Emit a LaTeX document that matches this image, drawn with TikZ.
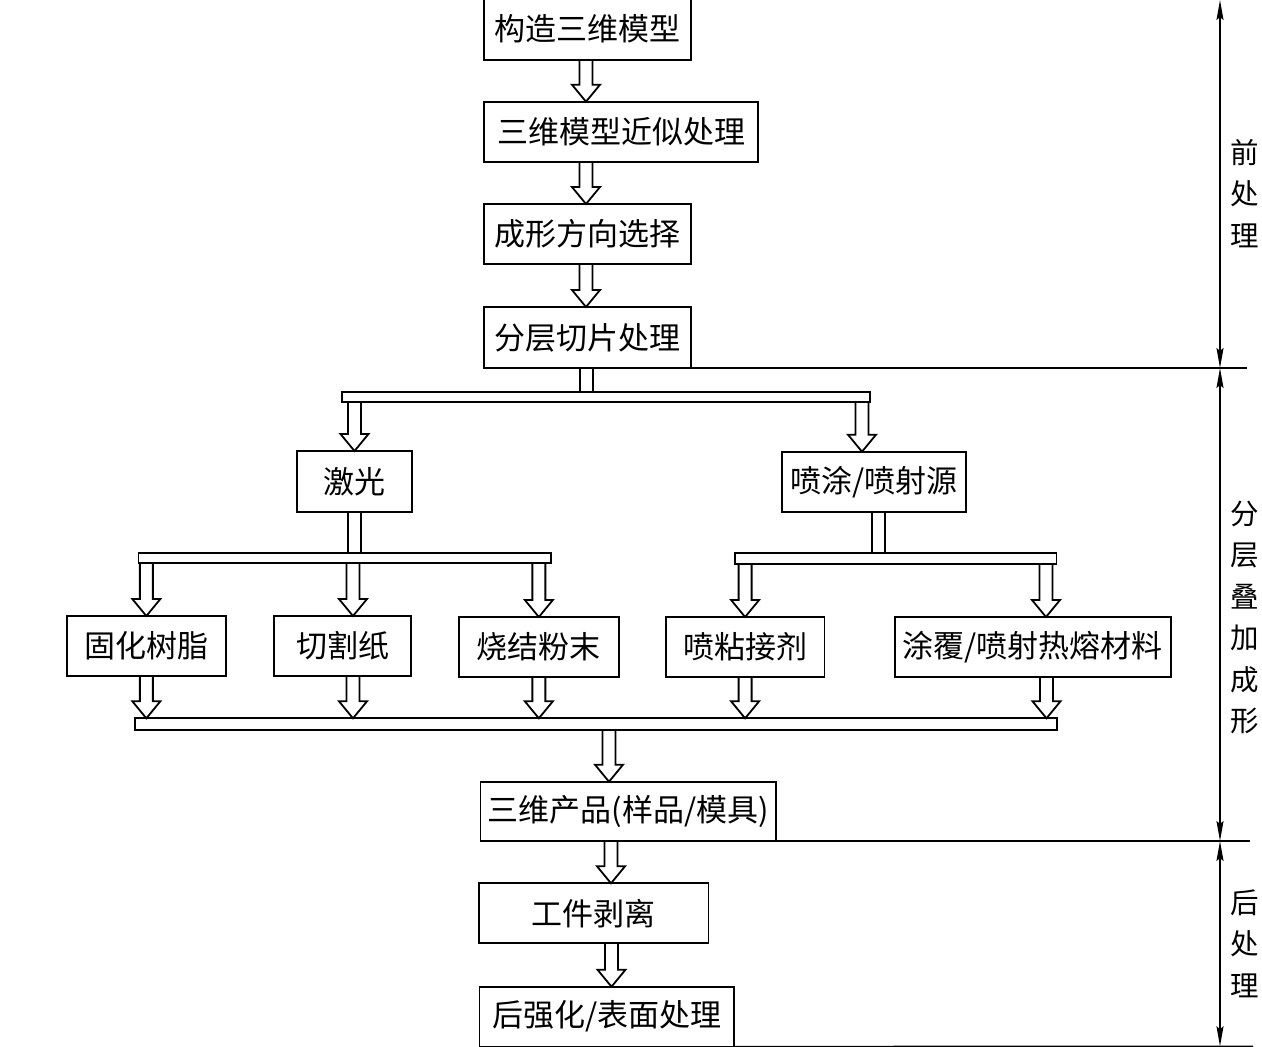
\documentclass[tikz,border=0pt]{standalone}
\usepackage{fontspec}
\newfontfamily\cjk{Noto Sans CJK SC}
\usetikzlibrary{calc,arrows.meta}
\tikzset{
  box/.style={draw, line width=1.8pt, inner sep=0pt, outer sep=0pt, font=\cjk\fontsize{31}{31}\selectfont},
  bus/.style={draw, line width=1.8pt, inner sep=0pt, outer sep=0pt, minimum height=10pt},
  hollow/.style={line width=1.8pt, line join=miter, to path={
    let \p1=(\tikztostart), \p2=(\tikztotarget) in
    (\x1-6.5pt,\y1) -- (\x1-6.5pt,\y2+17pt) -- (\x1-14pt,\y2+17pt) -- (\x1,\y2)
    -- (\x1+14pt,\y2+17pt) -- (\x1+6.5pt,\y2+17pt) -- (\x1+6.5pt,\y1)}},
  shaft/.style={line width=1.8pt, to path={
    let \p1=(\tikztostart), \p2=(\tikztotarget) in
    (\x1-6.5pt,\y1) -- (\x1-6.5pt,\y2) (\x1+6.5pt,\y1) -- (\x1+6.5pt,\y2)}},
  dim/.style={line width=1.8pt, {Stealth[length=20pt,width=7pt,inset=3pt]}-{Stealth[length=20pt,width=7pt,inset=3pt]}},
  rule/.style={line width=1.4pt},
  side/.style={font=\cjk\fontsize{28.5}{41.5}\selectfont, align=center, inner sep=0pt}
}
\begin{document}
\begin{tikzpicture}[x=1pt,y=-1pt]
\useasboundingbox (0,0) rectangle (1262,1047);
\clip (0,0) rectangle (1262,1047);
% boxes
\node[box, minimum width=206.7pt, minimum height=62pt] (b1) at (587.3,29) {构造三维模型};
\node[box, minimum width=274pt, minimum height=60.3pt] (b2) at (621,131.85) {三维模型近似处理};
\node[box, minimum width=206.7pt, minimum height=60pt] (b3) at (587.3,234) {成形方向选择};
\node[box, minimum width=206.7pt, minimum height=61pt] (b4) at (587.3,337.5) {分层切片处理};
\node[bus, minimum width=528pt] (bus1) at (606,396.7) {};
\node[box, minimum width=115pt, minimum height=61pt] (laser) at (354.5,481.5) {激光};
\node[box, minimum width=184pt, minimum height=60.3pt] (spray) at (874,481.85) {喷涂/喷射源};
\node[bus, minimum width=412.1pt] (bus2) at (344.55,558.3) {};
\node[bus, minimum width=321.3pt, minimum height=10.7pt] (bus3) at (895.85,558.65) {};
\node[box, minimum width=158.7pt, minimum height=60pt] (cure) at (146.35,646) {固化树脂};
\node[box, minimum width=137.3pt, minimum height=60pt] (paper) at (342.65,646) {切割纸};
\node[box, minimum width=159.7pt, minimum height=60pt] (sinter) at (538.85,647) {烧结粉末};
\node[box, minimum width=158.6pt, minimum height=60pt] (binder) at (745.1,647) {喷粘接剂};
\node[box, minimum width=275.7pt, minimum height=60pt] (hotmelt) at (1032.85,647) {涂覆/喷射热熔材料};
\node[bus, minimum width=922.7pt, minimum height=11.7pt] (bus4) at (595.95,724.15) {};
\node[box, minimum width=295.9pt, minimum height=59.3pt] (prod) at (628.35,811.35) {三维产品(样品/模具)};
\node[box, minimum width=229.6pt, minimum height=60pt] (peel) at (593.7,913.3) {工件剥离};
\node[box, minimum width=254.6pt, minimum height=59.8pt] (post) at (606.7,1016.6) {后强化/表面处理};
% arrow start coordinates
\coordinate (s1) at (586,60);
\coordinate (s2) at (586,162);
\coordinate (s3) at (586,264);
\coordinate (s4) at (586.5,368);
\coordinate (s5) at (862,401.7);
\coordinate (s6) at (878.5,512);
\coordinate (s7) at (353,563.3);
\coordinate (s8) at (1046,564);
\coordinate (s9) at (353,676);
\coordinate (s10) at (1046.5,677);
\coordinate (s11) at (609,730);
\coordinate (s12) at (611,841);
\coordinate (s13) at (611.5,943.3);
% connectors
\draw[hollow] (s1) to (b2.north);
\draw[hollow] (s2) to (b3.north);
\draw[hollow] (s3) to (b4.north);
\draw[shaft] (s4) to (bus1.north);
\draw[hollow] (bus1.south -| laser.north) to (laser.north);
\draw[hollow] (s5) to (spray.north);
\draw[shaft] (laser.south) to (bus2.north);
\draw[shaft] (s6) to (bus3.north);
\draw[hollow] (bus2.south -| cure.north) to (cure.north);
\draw[hollow] (s7) to (paper.north);
\draw[hollow] (bus2.south -| sinter.north) to (sinter.north);
\draw[hollow] (bus3.south -| binder.north) to (binder.north);
\draw[hollow] (s8) to (hotmelt.north);
\draw[hollow] (cure.south) to (bus4.north);
\draw[hollow] (s9) to (bus4.north);
\draw[hollow] (sinter.south) to (bus4.north);
\draw[hollow] (binder.south) to (bus4.north);
\draw[hollow] (s10) to (bus4.north);
\draw[hollow] (s11) to (prod.north);
\draw[hollow] (s12) to (peel.north);
\draw[hollow] (s13) to (post.north);
% stage rules
\coordinate (r1) at (1247,368);
\coordinate (r2) at (1250,841);
\coordinate (r3) at (1253,1046.3);
\draw[rule] (b4.south east) -- (r1);
\draw[rule] (prod.south east) -- (r2);
\draw[rule] (post.south east) -- (r3);
% dimension lines
\coordinate (d0) at (1220,0);
\coordinate (d1) at (1220,368);
\coordinate (d2) at (1220,841);
\coordinate (d3) at (1220,1046.3);
\draw[dim] (d0) -- (d1);
\draw[dim] (d1) -- (d2);
\draw[dim] (d2) -- (d3);
\node[side] (l1) at (1245,193.5) {前\\处\\理};
\node[side] (l2) at (1245,617.5) {分\\层\\叠\\加\\成\\形};
\node[side] (l3) at (1245,943.5) {后\\处\\理};
\end{tikzpicture}
\end{document}
